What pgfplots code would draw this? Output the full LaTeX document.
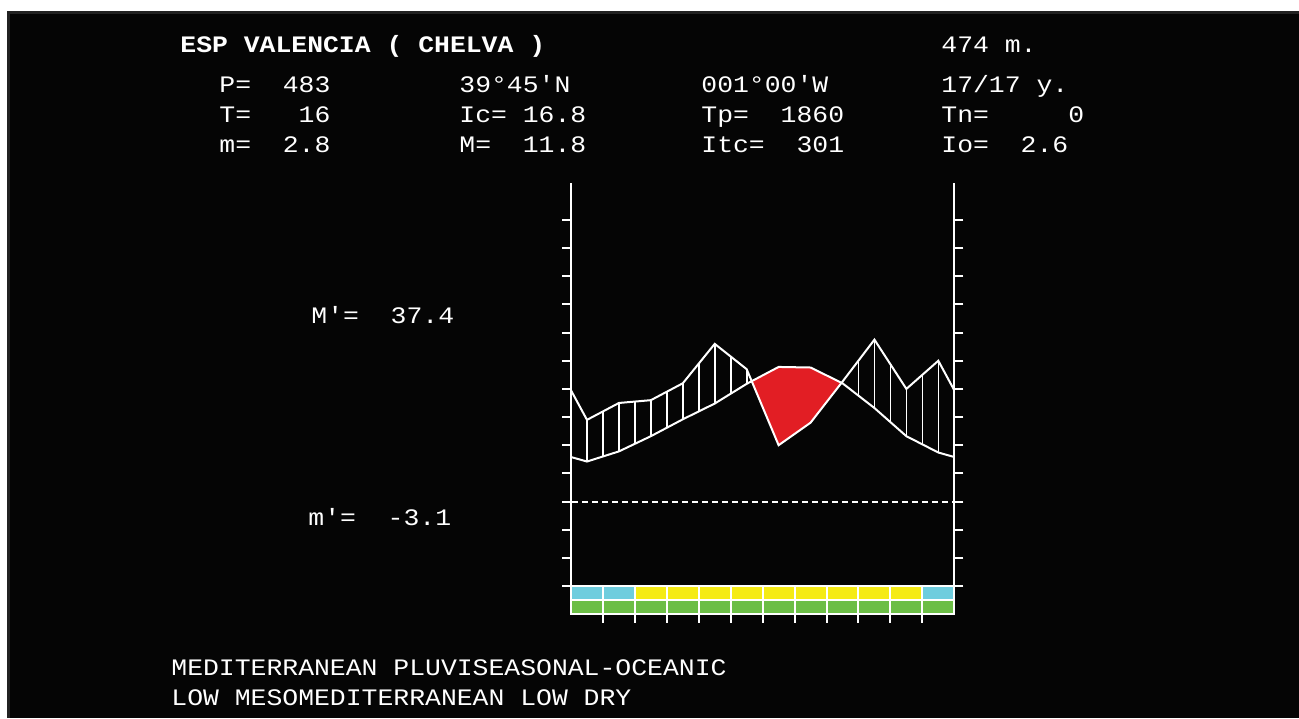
\documentclass[border=0pt]{standalone}
\usepackage{pgfplots}
\pgfplotsset{compat=1.18}
\usepgfplotslibrary{fillbetween}
\usetikzlibrary{patterns.meta}
\usepackage{pgfplotstable}
\usepackage{fontspec}
\newfontfamily\mono{Liberation Mono}[FakeStretch=1.12]
\definecolor{bgblack}{RGB}{5,5,5}
\definecolor{bordergray}{RGB}{34,34,34}
\definecolor{dryred}{RGB}{226,30,36}
\definecolor{barcyan}{RGB}{110,205,222}
\definecolor{baryellow}{RGB}{245,235,20}
\definecolor{bargreen}{RGB}{108,190,70}
\pgfdeclarelayer{picbg}
\pgfplotsset{
  layers/withbg/.define layer set={
    picbg, axis background, axis grid, axis ticks, axis lines, axis tick labels,
    pre main, main, axis descriptions, axis foreground
  }{},
  set layers=withbg,
}
% month position (0 = start of Jan), mean temperature (C), precipitation (mm)
\pgfplotstableread{
x    T     P
0    7.9   39.5
0.5  7.1   29
1.5  8.9   35
2.5  11.6  36
3.5  14.6  42
4.5  17.4  56
5.5  20.9  47
6.5  23.9  20
7.5  23.8  28
8.5  21.0  42.6
9.5  16.6  57.5
10.5 11.6  40
11.5 8.7   50
12   7.9   39.5
}\climate
\begin{document}
\begin{tikzpicture}[x=0.5pt,y=0.5pt,
  txt/.style={inner sep=0pt, text=white, anchor=base west, font=\mono\fontsize{11.8pt}{14pt}\selectfont}]
\begin{pgfonlayer}{picbg}
\fill[white] (0,0) rectangle (1299,718);
\fill[bordergray] (7,0) rectangle (1299,707);
\fill[bgblack] (10,0) rectangle (1299,704);
\end{pgfonlayer}
\begin{axis}[
  at={(285.5pt,51.95pt)}, anchor=south west,
  x=15.97pt, y=2.815pt,
  xmin=0, xmax=12, ymin=-20, ymax=56.57,
  axis x line*=bottom, axis y line*=box,
  xtick=\empty,
  ytick={-15,-10,...,50}, yticklabels={},
  ytick pos=both, tick align=outside, major tick length=4.5pt,
  axis line style={white, line width=1pt},
  tick style={white, line width=1pt},
  clip=false, no markers,
]
% colour bar
\addplot[fill=barcyan, draw=white, line width=1pt] coordinates {(0,-15) (2,-15) (2,-17.5) (0,-17.5)} -- cycle;
\addplot[fill=baryellow, draw=white, line width=1pt] coordinates {(2,-15) (11,-15) (11,-17.5) (2,-17.5)} -- cycle;
\addplot[fill=barcyan, draw=white, line width=1pt] coordinates {(11,-15) (12,-15) (12,-17.5) (11,-17.5)} -- cycle;
\addplot[fill=bargreen, draw=white, line width=1pt] coordinates {(0,-17.5) (12,-17.5) (12,-20) (0,-20)} -- cycle;
\addplot[white, line width=1pt, unbounded coords=jump] coordinates {
 (1,-15) (1,-21.6) (1,nan) (2,-15) (2,-21.6) (2,nan) (3,-15) (3,-21.6) (3,nan)
 (4,-15) (4,-21.6) (4,nan) (5,-15) (5,-21.6) (5,nan) (6,-15) (6,-21.6) (6,nan)
 (7,-15) (7,-21.6) (7,nan) (8,-15) (8,-21.6) (8,nan) (9,-15) (9,-21.6) (9,nan)
 (10,-15) (10,-21.6) (10,nan) (11,-15) (11,-21.6)};
% zero line
\addplot[white, line width=1pt, dash pattern=on 3pt off 2pt] coordinates {(-0.28,0) (12.28,0)};
% curves
\addplot[name path=T, draw=none] table[x=x, y=T] {\climate};
\addplot[name path=P, draw=none] table[x=x, y expr=\thisrow{P}/2] {\climate};
\addplot[draw=none, fill=dryred] fill between[of=P and T, split,
   every even segment/.style={pattern={Lines[angle=90, distance=7.985pt, line width=0.85pt, xshift=6.04pt]}, pattern color=white}];
\addplot[white, line width=1pt] table[x=x, y=T] {\climate};
\addplot[white, line width=1pt] table[x=x, y expr=\thisrow{P}/2] {\climate};
\end{axis}
% header
\node[txt, font=\mono\bfseries\fontsize{11.8pt}{14pt}\selectfont] at (180,665) {ESP VALENCIA ( CHELVA )};
\node[txt] at (941,665) {474 m.};
\node[txt] at (219,625) {P=~~483};
\node[txt] at (459,625) {39°45'N};
\node[txt] at (701,625) {001°00'W};
\node[txt] at (941,625) {17/17 y.};
\node[txt] at (219,595) {T=~~~16};
\node[txt] at (459,595) {Ic=~16.8};
\node[txt] at (701,595) {Tp=~~1860};
\node[txt] at (941,595) {Tn=~~~~~0};
\node[txt] at (219,565) {m=~~2.8};
\node[txt] at (459,565) {M=~~11.8};
\node[txt] at (701,565) {Itc=~~301};
\node[txt] at (941,565) {Io=~~2.6};
\node[txt] at (311,394) {M'=~~37.4};
\node[txt] at (308,193) {m'=~~-3.1};
\node[txt] at (171,43) {MEDITERRANEAN PLUVISEASONAL-OCEANIC};
\node[txt] at (171,13) {LOW MESOMEDITERRANEAN LOW DRY};
\end{tikzpicture}
\end{document}
